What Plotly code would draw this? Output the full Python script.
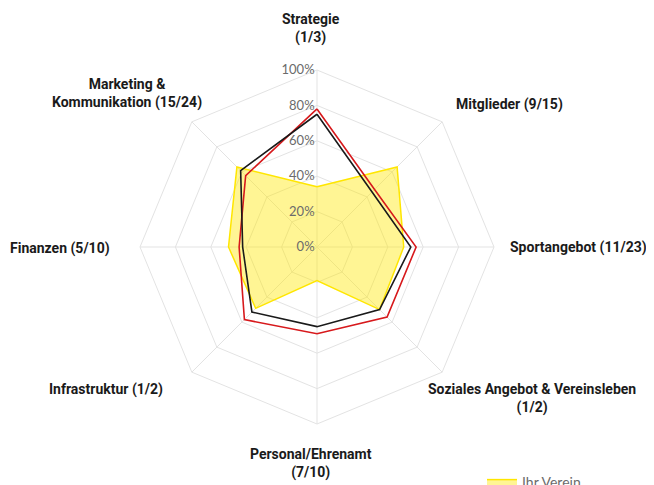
import plotly.graph_objects as go

categories = ["Strategie", "Mitglieder", "Sportangebot", "Soziales Angebot & Vereinsleben",
              "Personal/Ehrenamt", "Infrastruktur", "Finanzen", "Marketing & Kommunikation"]
category_labels = ["Strategie<br>(1/3)", "Mitglieder (9/15)", "Sportangebot (11/23)",
                   "Soziales Angebot & Vereinsleben<br>(1/2)", "Personal/Ehrenamt<br>(7/10)",
                   "Infrastruktur (1/2)", "Finanzen (5/10)", "Marketing &<br>Kommunikation (15/24)"]
ihr_verein = [34, 64, 49, 50, 19, 49, 50, 64]
vergleich_schwarz = [75, 44, 53, 50, 45, 52, 42, 61]
vergleich_rot = [78, 46, 56, 56, 49, 58, 44, 57]
radial_ticks = [0, 20, 40, 60, 80, 100]
radial_ticktext = ["0%", "20%", "40%", "60%", "80%", "100%"]

W, H = 654, 485
OFF = 8  # page body margin
# label placement in screen pixels (x, y, xanchor)
label_pos = [(311, 29, "center"), (454, 105, "left"), (508, 247, "left"),
             (532, 398, "center"), (311, 463, "center"), (165, 389, "right"),
             (112, 248, "right"), (127, 93, "center")]

def closed(v):
    return v + v[:1]

theta_c = closed(categories)

fig = go.Figure()
fig.add_trace(go.Scatterpolar(
    r=closed(ihr_verein), theta=theta_c, name="Ihr Verein", mode="lines",
    fill="toself", fillcolor="rgba(255,232,0,0.42)",
    line=dict(color="#ffe600", width=1.5)))
fig.add_trace(go.Scatterpolar(
    r=closed(vergleich_rot), theta=theta_c, name="Durchschnitt", mode="lines",
    line=dict(color="#d7191c", width=1.6)))
fig.add_trace(go.Scatterpolar(
    r=closed(vergleich_schwarz), theta=theta_c, name="Vergleichsgruppe", mode="lines",
    line=dict(color="#1a1a1a", width=1.6)))

cx, cy, R = 317 - OFF, 247 - OFF, 177
fig.update_layout(
    width=W, height=H,
    margin=dict(l=0, r=0, t=0, b=0, autoexpand=False),
    paper_bgcolor="white",
    polar=dict(
        domain=dict(x=[(cx - R) / W, (cx + R) / W], y=[(H - cy - R) / H, (H - cy + R) / H]),
        bgcolor="white",
        gridshape="linear",
        angularaxis=dict(
            type="category", categoryorder="array", categoryarray=categories,
            rotation=90, direction="clockwise",
            showticklabels=False, ticks="",
            showgrid=True, gridcolor="#e3e3e3", gridwidth=1,
            showline=True, linecolor="#e3e3e3", linewidth=1),
        radialaxis=dict(
            range=[0, 100], tickmode="array", tickvals=radial_ticks, ticktext=radial_ticktext,
            angle=90, tickangle=90, side="counterclockwise",
            showline=False, ticks="", gridcolor="#e3e3e3", gridwidth=1,
            tickfont=dict(family="Lato, Roboto, sans-serif", size=13, color="#6b6b6b")),
    ),
    showlegend=True,
    legend=dict(x=(482 - OFF) / W, y=(H - (466 - OFF)) / H,
                xanchor="left", yanchor="top", orientation="v", itemwidth=30,
                font=dict(family="Lato, Roboto, sans-serif", size=14, color="#6b6b6b"),
                bgcolor="rgba(0,0,0,0)"),
)

for (px, py, xa), txt in zip(label_pos, category_labels):
    fig.add_annotation(
        x=(px - OFF) / W, y=1 - (py - OFF) / H, xref="paper", yref="paper",
        text=txt, showarrow=False, xanchor=xa, yanchor="middle", align="center",
        font=dict(family="Roboto, sans-serif", size=14, color="#1a1a1a", weight="bold"))

fig.write_html("out.html")
